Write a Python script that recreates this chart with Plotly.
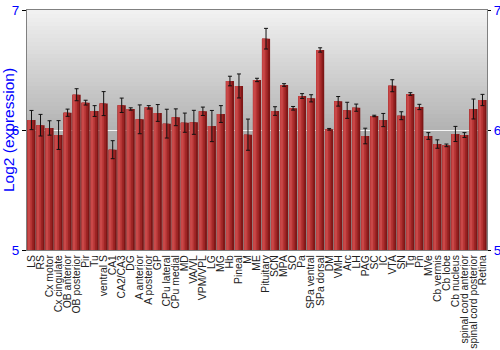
import plotly.graph_objects as go

regions = ["LS", "RS", "Cx motor", "Cx cingulate", "OB anterior", "OB posterior", "Pir", "Tu",
           "ventral S", "CA1", "CA2/CA3", "DG", "A anterior", "A posterior", "GP", "CPu lateral",
           "CPu medial", "MD", "VA/VL", "VPM/VPL", "LG", "MG", "Hb", "Pineal", "M", "ME",
           "Pituitary", "SCN", "MPA", "SO", "Pa", "SPa ventral", "SPa dorsal", "DM", "VMH", "Arc",
           "LH", "PAG", "SC", "IC", "VTA", "SN", "Tg", "Pn", "MVe", "Cb vermis", "Cb lobe",
           "Cb nucleus", "spinal cord anterior", "spinal cord posterior", "Retina"]

expression = [6.083, 6.04, 6.017, 5.958, 6.144, 6.294, 6.228, 6.158,
              6.22, 5.836, 6.206, 6.175, 6.089, 6.189, 6.142, 6.053,
              6.106, 6.061, 6.064, 6.156, 6.033, 6.133, 6.408, 6.367, 5.961, 6.417,
              6.761, 6.158, 6.375, 6.181, 6.283, 6.264, 6.667, 6.006, 6.239, 6.164,
              6.186, 5.95, 6.117, 6.083, 6.369, 6.119, 6.30, 6.192, 5.95, 5.883, 5.872,
              5.967, 5.958, 6.175, 6.25]

error = [0.08, 0.09, 0.06, 0.12, 0.03, 0.05, 0.02, 0.045,
         0.10, 0.075, 0.06, 0.01, 0.12, 0.014, 0.07, 0.12,
         0.07, 0.08, 0.10, 0.035, 0.13, 0.07, 0.04, 0.10, 0.13, 0.014,
         0.086, 0.036, 0.011, 0.015, 0.02, 0.03, 0.018, 0.007, 0.04, 0.067,
         0.03, 0.065, 0.006, 0.055, 0.05, 0.033, 0.011, 0.022, 0.028, 0.035, 0.011,
         0.063, 0.02, 0.083, 0.047]

y_ticks = [5, 6, 7]
y_title = "Log2 (expression)"

fig = go.Figure()

# bar body drawn as overlapping stripes to imitate a horizontal shading
stripes = [
    (0.90, -0.45, "#7e1616"),
    (0.70, -0.45, "#9c2424"),
    (0.50, -0.45, "#b53434"),
    (0.28, -0.42, "#c94848"),
]
for w, off, col in stripes:
    fig.add_trace(go.Bar(
        x=regions, y=expression, base=0, width=w, offset=off,
        marker=dict(color=col, line=dict(width=0)),
        hoverinfo="skip", showlegend=False,
    ))

fig.add_trace(go.Scatter(
    x=regions, y=expression, mode="markers",
    marker=dict(size=1, color="rgba(0,0,0,0)"),
    error_y=dict(type="data", array=error, color="#111111", thickness=1, width=2),
    showlegend=False, hoverinfo="skip",
))

fig.add_trace(go.Scatter(x=[regions[0]], y=[6], yaxis="y2", mode="markers",
                         marker=dict(color="rgba(0,0,0,0)"), showlegend=False, hoverinfo="skip"))

# background gradient
n = 60
top_c = (0xf2, 0xf2, 0xf2)
mid_c = (0xb2, 0xb2, 0xb2)
bot_c = (0x8c, 0x8c, 0x8c)
shapes = []
for i in range(n):
    y0 = 7 - 2 * i / n
    y1 = 7 - 2 * (i + 1) / n
    t = (i + 0.5) / n
    if t < 0.5:
        u = t / 0.5
        c = [round(top_c[k] + (mid_c[k] - top_c[k]) * u) for k in range(3)]
    else:
        u = (t - 0.5) / 0.5
        c = [round(mid_c[k] + (bot_c[k] - mid_c[k]) * u) for k in range(3)]
    shapes.append(dict(type="rect", xref="paper", yref="y", x0=0, x1=1, y0=y1, y1=y0,
                       fillcolor="rgb(%d,%d,%d)" % tuple(c), line=dict(width=0), layer="below"))

font_fam = "Liberation Sans, Arial, sans-serif"
fig.update_layout(
    width=500, height=350,
    margin=dict(l=27, r=13, t=10, b=100),
    paper_bgcolor="white", plot_bgcolor="rgba(0,0,0,0)",
    barmode="overlay", bargap=0.1,
    shapes=shapes,
    font=dict(family=font_fam),
    xaxis=dict(
        type="category", tickangle=-90, tickfont=dict(size=10.4, color="#222222", family=font_fam),
        tickmode="array", tickvals=regions, ticktext=regions,
        showgrid=False, ticks="", showline=True, linecolor="#808080", mirror=True,
        range=[-0.5, len(regions) - 0.5], automargin=False,
    ),
    yaxis=dict(
        range=[5, 7], tickvals=y_ticks, ticktext=[str(v) for v in y_ticks],
        tickfont=dict(size=13.5, color="#0000ff"), ticks="outside", ticklen=4, tickcolor="#000000",
        showgrid=True, gridcolor="#f4f4f4", gridwidth=1,
        showline=True, linecolor="#808080", mirror=True, zeroline=False, automargin=False,
    ),
    yaxis2=dict(
        range=[5, 7], tickvals=y_ticks, ticktext=[str(v) for v in y_ticks],
        overlaying="y", side="right", showgrid=False, zeroline=False, automargin=False,
        tickfont=dict(size=13.5, color="#0000ff"), ticks="outside", ticklen=3, tickcolor="#000000",
    ),
    annotations=[dict(text=y_title, xref="paper", yref="paper", x=0, y=0.5,
                      xanchor="center", yanchor="middle", xshift=-19, textangle=-90,
                      showarrow=False, font=dict(size=15.5, color="#0000ff", family=font_fam))],
)

fig.write_html("out.html")
